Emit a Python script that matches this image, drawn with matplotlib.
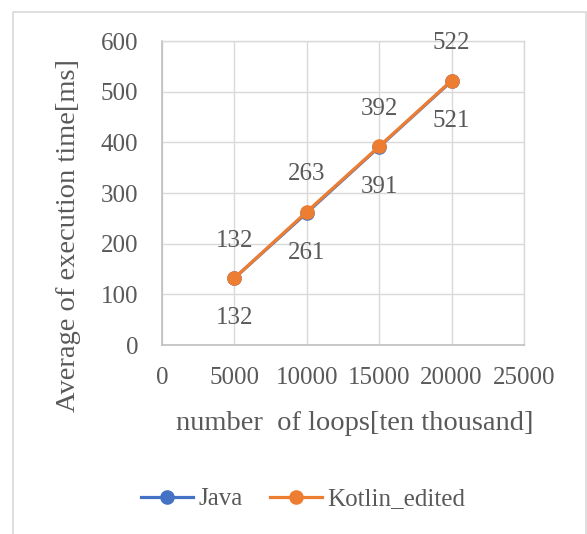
import matplotlib
matplotlib.use("Agg")
import matplotlib.pyplot as plt
from matplotlib.patches import Rectangle
from matplotlib.lines import Line2D

loops = [5000, 10000, 15000, 20000]
java_ms = [132, 261, 391, 521]
kotlin_ms = [132, 263, 392, 522]
series_names = ["Java", "Kotlin_edited"]
x_ticks = [0, 5000, 10000, 15000, 20000, 25000]
y_ticks = [0, 100, 200, 300, 400, 500, 600]

W, H = 587, 534
DPI = 100
TEXT = "#595959"
GRID = "#d9d9d9"
AXIS = "#bfbfbf"
BLUE = "#4472c4"
ORANGE = "#ed7d31"
FONT = "Liberation Serif"

plt.rcParams["font.family"] = [FONT, "DejaVu Serif"]

fig = plt.figure(figsize=(W / DPI, H / DPI), dpi=DPI)
fig.patch.set_facecolor("white")

# outer chart frame
fig.patches.append(Rectangle((13 / W, -0.02), (586 - 13) / W, (H - 12) / H + 0.02,
                             transform=fig.transFigure, fill=False,
                             edgecolor=GRID, linewidth=1.2))

left, right, top, bottom = 162, 524, 41, 345
ax = fig.add_axes([left / W, (H - bottom) / H, (right - left) / W, (bottom - top) / H])

ax.set_xlim(0, 25000)
ax.set_ylim(0, 600)
ax.set_xticks(x_ticks)
ax.set_yticks(y_ticks)
ax.set_xticklabels([str(v) for v in x_ticks])
ax.set_yticklabels([str(v) for v in y_ticks])
ax.grid(True, color=GRID, linewidth=1.0)
ax.set_axisbelow(True)
ax.tick_params(length=0, labelsize=18, colors=TEXT)
ax.tick_params(axis="y", pad=17)
ax.tick_params(axis="x", pad=16)
for s in ("top", "right"):
    ax.spines[s].set_color(GRID)
    ax.spines[s].set_linewidth(1.0)
for s in ("left", "bottom"):
    ax.spines[s].set_color(AXIS)
    ax.spines[s].set_linewidth(1.2)

ax.plot(loops, java_ms, color=BLUE, linewidth=2.3, marker="o", markersize=9.5, zorder=3)
ax.plot(loops, kotlin_ms, color=ORANGE, linewidth=2.3, marker="o", markersize=9.5, zorder=4)

for x, y in zip(loops, kotlin_ms):
    ax.annotate(str(y), (x, y), xytext=(0, 27), textcoords="offset points",
                ha="center", va="center", fontsize=18, color=TEXT)
for x, y in zip(loops, java_ms):
    ax.annotate(str(y), (x, y), xytext=(0, -29), textcoords="offset points",
                ha="center", va="center", fontsize=18, color=TEXT)

fig.text(69 / W, 1 - 236 / H, "Average of execution time[ms]", rotation=90,
         ha="center", va="center", fontsize=20.5, color=TEXT)
fig.text(355 / W, 1 - 423 / H, "number  of loops[ten thousand]",
         ha="center", va="center", fontsize=20.5, color=TEXT)

handles = [Line2D([], [], color=BLUE, linewidth=2.3, marker="o", markersize=9.5),
           Line2D([], [], color=ORANGE, linewidth=2.3, marker="o", markersize=9.5)]
fig.legend(handles, series_names, loc="center", bbox_to_anchor=(303 / W, 1 - 499 / H),
           ncol=2, frameon=False, fontsize=18, labelcolor=TEXT, handlelength=2.1,
           handletextpad=0.2, columnspacing=1.1)

fig.savefig("out.png", dpi=DPI, facecolor="white")
